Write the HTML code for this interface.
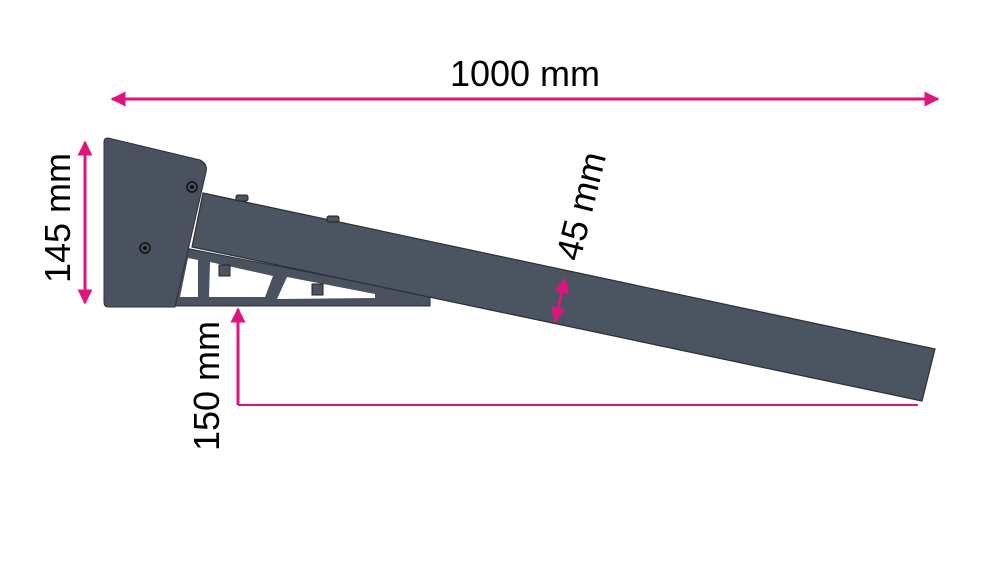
<!DOCTYPE html>
<html><head><meta charset="utf-8"><style>
body{margin:0;background:#fff;}
svg{display:block}
text{font-family:"Liberation Sans",sans-serif;fill:#000}
</style></head><body>
<svg width="1000" height="563" viewBox="0 0 1000 563" xmlns="http://www.w3.org/2000/svg">
<defs>
<marker id="a" viewBox="0 0 10 10" refX="9" refY="5" markerWidth="5" markerHeight="5" orient="auto-start-reverse"><path d="M0,0 L10,5 L0,10 z" fill="#e0147e"/></marker>
</defs>
<!-- bracket -->
<path d="M185,248 L430,296 L430,306 L175,306 Z" fill="#4a5260" stroke="#2a2f38" stroke-width="1"/>
<path d="M180,297 L188,258 L198,260 L198,297 Z" fill="#fff"/>
<path d="M209,297 L210,262 L273,276 L265,297 Z" fill="#fff"/>
<path d="M277,299 L287,277 L375,294 L375,298 Z" fill="#fff"/>
<!-- beam -->
<path d="M203,193 L935,349 L922,401 L192,247 Z" fill="#4b5461" stroke="#2a2f38" stroke-width="1.2"/>
<!-- bolts -->
<rect x="236" y="195" width="12" height="6" rx="2" fill="#4b5461" stroke="#222"/>
<rect x="327" y="216" width="12" height="6" rx="2" fill="#4b5461" stroke="#222"/>
<rect x="219" y="265" width="11" height="11" fill="#4b5461" stroke="#222"/>
<rect x="312" y="284" width="11" height="11" fill="#4b5461" stroke="#222"/>
<!-- plate -->
<path d="M108,138 L200,160 Q208,164 206,172 L175,307 L108,307 Q104,307 104,302 L104,142 Q104,138 108,138 Z" fill="#4a525f" stroke="#2a2f38" stroke-width="1"/>
<circle cx="192" cy="187" r="5" fill="none" stroke="#111" stroke-width="1.5"/><circle cx="192" cy="187" r="2" fill="#111"/>
<circle cx="145" cy="248" r="5" fill="none" stroke="#111" stroke-width="1.5"/><circle cx="145" cy="248" r="2" fill="#111"/>
<!-- dimensions -->
<g stroke="#e0147e" stroke-width="3" fill="none">
<line x1="112" y1="99" x2="938" y2="99" marker-start="url(#a)" marker-end="url(#a)"/>
<line x1="85" y1="142" x2="85" y2="303" marker-start="url(#a)" marker-end="url(#a)"/>
<line x1="238" y1="309" x2="238" y2="405" marker-start="url(#a)"/>
<line x1="565" y1="279" x2="555" y2="321" marker-start="url(#a)" marker-end="url(#a)"/>
</g>
<line x1="238" y1="405" x2="918" y2="405" stroke="#e0147e" stroke-width="2"/>
<text x="525" y="86" font-size="36" text-anchor="middle">1000 mm</text>
<text transform="translate(70,218) rotate(-90)" font-size="36" text-anchor="middle">145 mm</text>
<text transform="translate(219,386) rotate(-90)" font-size="36" text-anchor="middle">150 mm</text>
<text transform="translate(593,209) rotate(-76)" font-size="36" text-anchor="middle">45 mm</text>
</svg>
</body></html>
